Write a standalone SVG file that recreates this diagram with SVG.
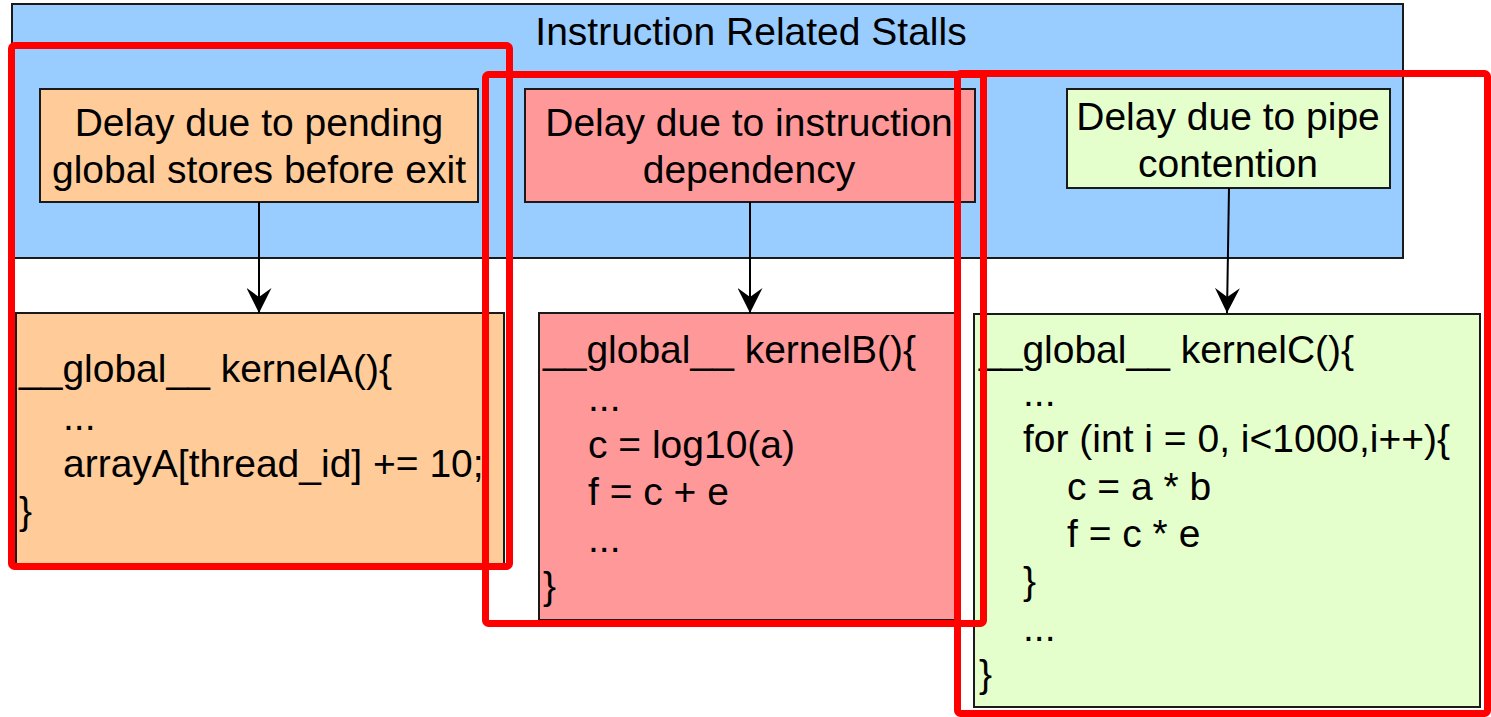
<svg xmlns="http://www.w3.org/2000/svg" width="1491" height="717" viewBox="0 0 1491 717">
<style>
text{font-family:"Liberation Sans",Arial,sans-serif;font-size:39px;fill:#000}
.c{text-anchor:middle}
.box{stroke:#1a1a1a;stroke-width:2}
.hl{fill:none;stroke:#ff0000;stroke-width:7}
.conn{stroke:#000;stroke-width:2;fill:none}
</style>
<defs>
<marker id="ah" markerWidth="25" markerHeight="25" refX="25" refY="12.5" orient="auto" markerUnits="userSpaceOnUse">
<path d="M25,12.5 L0,0 L9,12.5 L0,25 Z" fill="#000"/>
</marker>
</defs>
<rect width="1491" height="717" fill="#fff"/>
<g id="container">
<rect class="box" x="12" y="4" width="1391" height="254" fill="#99ccff"/>
<text class="c" x="751" y="45">Instruction Related Stalls</text>
</g>
<g id="headerA">
<rect class="box" x="40" y="89" width="438" height="113" fill="#ffcc99"/>
<text class="c" x="259" y="136">Delay due to pending</text>
<text class="c" x="259" y="183">global stores before exit</text>
</g>
<g id="headerB">
<rect class="box" x="525" y="89" width="450" height="113" fill="#ff9999"/>
<text class="c" x="749" y="136">Delay due to instruction</text>
<text class="c" x="749" y="183">dependency</text>
</g>
<g id="headerC">
<rect class="box" x="1067" y="89" width="323" height="99" fill="#e5ffcc"/>
<text class="c" x="1228" y="130">Delay due to pipe</text>
<text class="c" x="1228" y="177">contention</text>
</g>
<g id="codeA">
<rect class="box" x="16" y="313" width="488" height="252" fill="#ffcc99"/>
<text x="19" y="382">__global__ kernelA(){</text>
<text x="63" y="430">...</text>
<text x="63" y="477">arrayA[thread_id] += 10;</text>
<text x="19" y="524">}</text>
</g>
<g id="codeB">
<rect class="box" x="539" y="313" width="419" height="307" fill="#ff9999"/>
<text x="543" y="363">__global__ kernelB(){</text>
<text x="588" y="411">...</text>
<text x="588" y="458">c = log10(a)</text>
<text x="588" y="505">f = c + e</text>
<text x="588" y="552">...</text>
<text x="543" y="599">}</text>
</g>
<g id="codeC">
<rect class="box" x="974" y="314" width="506" height="393" fill="#e5ffcc"/>
<text x="979" y="363">__global__ kernelC(){</text>
<text x="1023" y="406">...</text>
<text x="1023" y="452">for (int i = 0, i&lt;1000,i++){</text>
<text x="1067" y="500">c = a * b</text>
<text x="1067" y="547">f = c * e</text>
<text x="1023" y="594">}</text>
<text x="1023" y="641">...</text>
<text x="979" y="687">}</text>
</g>
<g id="connectors">
<line class="conn" x1="259" y1="202" x2="259" y2="313" marker-end="url(#ah)"/>
<line class="conn" x1="750" y1="202" x2="750" y2="313" marker-end="url(#ah)"/>
<line class="conn" x1="1229" y1="188" x2="1227" y2="313" marker-end="url(#ah)"/>
</g>
<g id="highlights">
<rect class="hl" x="11.5" y="45.5" width="498" height="521" rx="3"/>
<rect class="hl" x="485.5" y="74.5" width="498" height="549" rx="3"/>
<rect class="hl" x="957.5" y="73.5" width="530" height="640" rx="3"/>
</g>
</svg>
